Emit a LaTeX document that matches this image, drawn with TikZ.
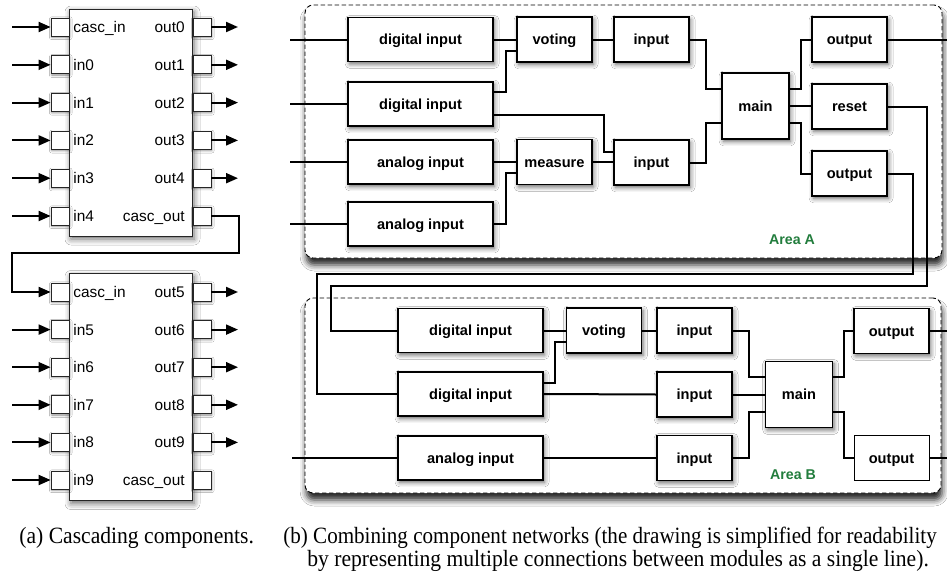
\documentclass[tikz,border=0pt]{standalone}
\usepackage{fontspec}
\setmainfont{Liberation Serif}
\setsansfont{Liberation Sans}
\usetikzlibrary{arrows.meta,calc,shadows.blur}
\definecolor{areagreen}{RGB}{34,125,61}
\tikzset{
  wire/.style={line width=1pt},
  arr/.style={line width=1pt,-{Triangle[length=6pt,width=5pt]}},
  boxshadow/.style={blur shadow={shadow xshift=0.8pt,shadow yshift=-1.2pt,shadow blur radius=2.2pt,shadow opacity=60}},
  modbase/.style={draw=black,fill=white,line width=0.6pt,inner sep=0pt,text height=5.4pt,text depth=0pt,font=\sffamily\bfseries\fontsize{7.3}{8}\selectfont},
  mod/.style={modbase,boxshadow},
  plainmod/.style={modbase,line width=0.4pt},
  wide/.style={minimum width=72.5pt,minimum height=22pt},
  small/.style={minimum width=37.5pt,minimum height=22.5pt},
  mainbox/.style={minimum width=33.5pt,minimum height=33pt},
  portbox/.style={draw=black!85,fill=white,line width=0.4pt,minimum size=9pt,inner sep=0pt,blur shadow={shadow xshift=0.4pt,shadow yshift=-0.6pt,shadow blur radius=1.2pt,shadow opacity=45}},
  compbox/.style={draw=black!85,fill=white,line width=0.4pt,inner sep=0pt,minimum width=61.5pt,minimum height=113.5pt,blur shadow={shadow xshift=1pt,shadow yshift=-1.5pt,shadow blur radius=3pt,shadow opacity=60}},
  plabel/.style={font=\sffamily\fontsize{7.7}{9}\selectfont,inner sep=0pt,text height=5.5pt,text depth=0pt},
  area/.style={draw=black,dash pattern=on 2.2pt off 1.3pt,line width=0.45pt,fill=white,rounded corners=4pt,inner sep=0pt,blur shadow={shadow xshift=0.6pt,shadow yshift=-3.5pt,shadow blur radius=3pt,shadow opacity=85}},
  arealabel/.style={font=\sffamily\bfseries\fontsize{7.1}{8}\selectfont,text=areagreen,inner sep=0pt},
  captext/.style={font=\fontsize{10.8}{12}\selectfont,inner sep=0pt,anchor=base west},
}
\begin{document}
\begin{tikzpicture}[x=0.5pt,y=-0.5pt]
\useasboundingbox (0,0) rectangle (947,573);
\fill[white] (0,0) rectangle (947,573);

% ---------------- (a) cascading components ----------------
\node[compbox] (CA) at (130.5,122.5) {};
\node[compbox] (CB) at (130.5,387) {};
\foreach \i/\ll/\rl in {0/casc\_in/out0,1/in0/out1,2/in1/out2,3/in2/out3,4/in3/out4,5/in4/casc\_out}{
  \pgfmathsetmacro{\yy}{27+37.8*\i}
  \node[portbox] (A-L\i) at (60,\yy) {};
  \node[portbox] (A-R\i) at (202,\yy) {};
  \node[plabel,anchor=west] (A-LT\i) at (73,\yy) {\ll};
  \node[plabel,anchor=east] (A-RT\i) at (185,\yy) {\rl};
  \coordinate (A-in\i) at (12,\yy);
  \draw[arr] (A-in\i) -- (A-L\i.west);
}
\foreach \i in {0,...,4}{
  \pgfmathsetmacro{\yy}{27+37.8*\i}
  \coordinate (A-out\i) at (238,\yy);
  \draw[arr] (A-R\i.east) -- (A-out\i);
}
\foreach \i/\ll/\rl in {0/casc\_in/out5,1/in5/out6,2/in6/out7,3/in7/out8,4/in8/out9,5/in9/casc\_out}{
  \pgfmathsetmacro{\yy}{292+37.6*\i}
  \node[portbox] (B-L\i) at (60,\yy) {};
  \node[portbox] (B-R\i) at (202,\yy) {};
  \node[plabel,anchor=west] (B-LT\i) at (73,\yy) {\ll};
  \node[plabel,anchor=east] (B-RT\i) at (185,\yy) {\rl};
}
\foreach \i in {1,...,5}{
  \pgfmathsetmacro{\yy}{292+37.6*\i}
  \coordinate (B-in\i) at (12,\yy);
  \draw[arr] (B-in\i) -- (B-L\i.west);
}
\foreach \i in {0,...,4}{
  \pgfmathsetmacro{\yy}{292+37.6*\i}
  \coordinate (B-out\i) at (238,\yy);
  \draw[arr] (B-R\i.east) -- (B-out\i);
}
\coordinate (kA) at (239,253);
\coordinate (kB) at (12,253);
\draw[arr] (A-R5.east) -| (kA) -- (kB) |- (B-L0.west);

% ---------------- (b) areas ----------------
\node[area,minimum width=318.5pt,minimum height=126.5pt] (areaA) at (623.5,131.5) {};
\node[area,minimum width=318pt,minimum height=97.5pt] (areaB) at (623,395.5) {};
\node[arealabel] (labA) at (792,240) {Area A};
\node[arealabel] (labB) at (793,475) {Area B};

% Area A modules
\node[mod,wide] (dA1) at (420.5,39.5) {digital input};
\node[mod,wide] (dA2) at (420.5,104) {digital input};
\node[mod,wide] (aA1) at (420.5,162) {analog input};
\node[mod,wide] (aA2) at (420.5,224) {analog input};
\node[mod,small] (votA) at (554.5,39.5) {voting};
\node[mod,small] (meaA) at (554.5,162) {measure};
\node[mod,small] (inA1) at (651.5,39.5) {input};
\node[mod,small] (inA2) at (651.5,162.5) {input};
\node[mod,mainbox] (mainA) at (755.5,106) {main};
\node[mod,small] (outA1) at (849.5,39.5) {output};
\node[mod,small] (rstA) at (849.5,106.5) {reset};
\node[mod,small] (outA2) at (849.5,173.5) {output};

% Area B modules
\node[mod,wide] (dB1) at (470.5,330.5) {digital input};
\node[mod,wide] (dB2) at (470.5,394) {digital input};
\node[mod,wide] (anB) at (470.5,458) {analog input};
\node[mod,small] (votB) at (604,330.5) {voting};
\node[mod,small] (inB1) at (694.5,330.5) {input};
\node[mod,small] (inB2) at (694.5,394.5) {input};
\node[mod,small] (inB3) at (694.5,458) {input};
\node[mod,mainbox] (mainB) at (799,394.5) {main};
\node[mod,small] (outB1) at (891.5,331) {output};
\node[plainmod,small] (outB2) at (891.5,458) {output};

% Area A wires
\coordinate (eA1) at (290,39.5);
\coordinate (eA2) at (290,104);
\coordinate (eA3) at (290,162);
\coordinate (eA4) at (290,224);
\draw[wire] (eA1) -- (dA1.west);
\draw[wire] (eA2) -- (dA2.west);
\draw[wire] (eA3) -- (aA1.west);
\draw[wire] (eA4) -- (aA2.west);
\draw[wire] (dA1.east) -- (votA.west);
\draw[wire] ($(dA2.east)+(0,-12)$) -- ++(12,0) |- ($(votA.west)+(0,11.5)$);
\draw[wire] ($(dA2.east)+(0,11)$) -- ++(110,0) |- ($(inA2.west)+(0,-10.5)$);
\draw[wire] (aA1.east) -- (meaA.west);
\draw[wire] (aA2.east) -- ++(12,0) |- ($(meaA.west)+(0,11)$);
\draw[wire] (meaA.east) -- (meaA.east -| inA2.west);
\draw[wire] (votA.east) -- (inA1.west);
\draw[wire] (inA1.east) -- ++(16,0) |- ($(mainA.west)+(0,-17)$);
\draw[wire] (inA2.east) -- ++(16,0) |- ($(mainA.west)+(0,17)$);
\draw[wire] ($(mainA.east)+(0,-17)$) -- ++(11,0) |- (outA1.west);
\draw[wire] (mainA.east) -- (mainA.east -| rstA.west);
\draw[wire] ($(mainA.east)+(0,17)$) -- ++(11,0) |- (outA2.west);
\coordinate (oA1) at (947,39.5);
\draw[wire] (outA1.east) -- (oA1);

% links from Area A to Area B
\coordinate (r1) at (927,286);
\coordinate (r2) at (331,286);
\draw[wire] (rstA.east) -| (r1) -- (r2) |- (dB1.west);
\coordinate (q1) at (913,274);
\coordinate (q2) at (317,274);
\draw[wire] (outA2.east) -| (q1) -- (q2) |- (dB2.west);

% Area B wires
\coordinate (eB1) at (292,458);
\draw[wire] (eB1) -- (anB.west);
\draw[wire] (dB1.east) -- (votB.west);
\draw[wire] ($(dB2.east)+(0,-11)$) -- ++(11,0) |- ($(votB.west)+(0,11.5)$);
\draw[wire] (votB.east) -- (inB1.west);
\draw[wire] (dB2.east) -- (inB2.west);
\draw[wire] (anB.east) -- (inB3.west);
\draw[wire] (inB1.east) -- ++(16,0) |- ($(mainB.west)+(0,-17.5)$);
\draw[wire] (inB2.east) -- (inB2.east -| mainB.west);
\draw[wire] (inB3.east) -- ++(16,0) |- ($(mainB.west)+(0,17.5)$);
\draw[wire] ($(mainB.east)+(0,-17.5)$) -- ++(11,0) |- (outB1.west);
\draw[wire] ($(mainB.east)+(0,17.5)$) -- ++(11,0) |- (outB2.west);
\coordinate (oB1) at (947,331);
\coordinate (oB2) at (947,458);
\draw[wire] (outB1.east) -- (oB1);
\draw[wire] (outB2.east) -- (oB2);

% captions
\node[captext] (capa) at (19,543) {\scalebox{1}[1.08]{(a) Cascading components.}};
\node[captext] (capb1) at (283,543) {\scalebox{0.975}[1.08]{(b) Combining component networks (the drawing is simplified for readability}};
\node[captext] (capb2) at (307,566) {\scalebox{1}[1.08]{by representing multiple connections between modules as a single line).}};
\end{tikzpicture}
\end{document}
